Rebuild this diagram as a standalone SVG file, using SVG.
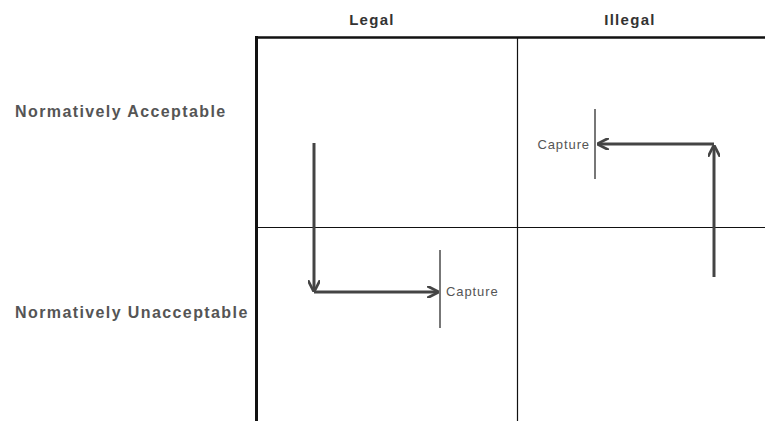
<svg xmlns="http://www.w3.org/2000/svg" width="765" height="421" viewBox="0 0 765 421">
<defs>
<marker id="ah" viewBox="0 0 10 10" refX="9" refY="5" markerWidth="4" markerHeight="4" orient="auto" markerUnits="strokeWidth">
<path d="M0,0 L10,5 L0,10" fill="none" stroke="#444" stroke-width="2.2"/>
</marker>
</defs>
<style>
.lbl{font-family:"Liberation Sans",Arial,sans-serif;font-weight:bold;fill:#333;font-size:15px;letter-spacing:1.3px}
.row{font-family:"Liberation Sans",Arial,sans-serif;font-weight:bold;fill:#555;font-size:16px;letter-spacing:1.4px}
.cap{font-family:"Liberation Sans",Arial,sans-serif;fill:#555;font-size:13px;letter-spacing:0.9px}
.grid{stroke:#111;fill:none}
.arr{stroke:#444;stroke-width:3;fill:none}
.bar{stroke:#777;stroke-width:2}
</style>
<rect width="765" height="421" fill="#fff"/>
<g id="grid">
<line class="grid" x1="256" y1="37.5" x2="765" y2="37.5" stroke-width="2.5"/>
<line class="grid" x1="256.5" y1="36" x2="256.5" y2="421" stroke-width="3"/>
<line class="grid" x1="517.5" y1="37" x2="517.5" y2="421" stroke-width="1.2"/>
<line class="grid" x1="256" y1="227.5" x2="765" y2="227.5" stroke-width="1.2"/>
</g>
<g id="headers">
<text class="lbl" x="372" y="25" text-anchor="middle">Legal</text>
<text class="lbl" x="630" y="25" text-anchor="middle">Illegal</text>
<text class="row" x="15" y="117">Normatively Acceptable</text>
<text class="row" x="15" y="318">Normatively Unacceptable</text>
</g>
<g id="capture-legal">
<line class="bar" x1="440" y1="250" x2="440" y2="328"/>
<text class="cap" x="446" y="296">Capture</text>
</g>
<g id="capture-illegal">
<line class="bar" x1="595" y1="109" x2="595" y2="179"/>
<text class="cap" x="590" y="149" text-anchor="end">Capture</text>
</g>
<g id="connectors">
<line class="arr" x1="314" y1="143" x2="314" y2="291" marker-end="url(#ah)"/>
<line class="arr" x1="314" y1="292" x2="438" y2="292" marker-end="url(#ah)"/>
<line class="arr" x1="714" y1="277" x2="714" y2="146" marker-end="url(#ah)"/>
<line class="arr" x1="714" y1="144" x2="598" y2="144" marker-end="url(#ah)"/>
</g>
</svg>
